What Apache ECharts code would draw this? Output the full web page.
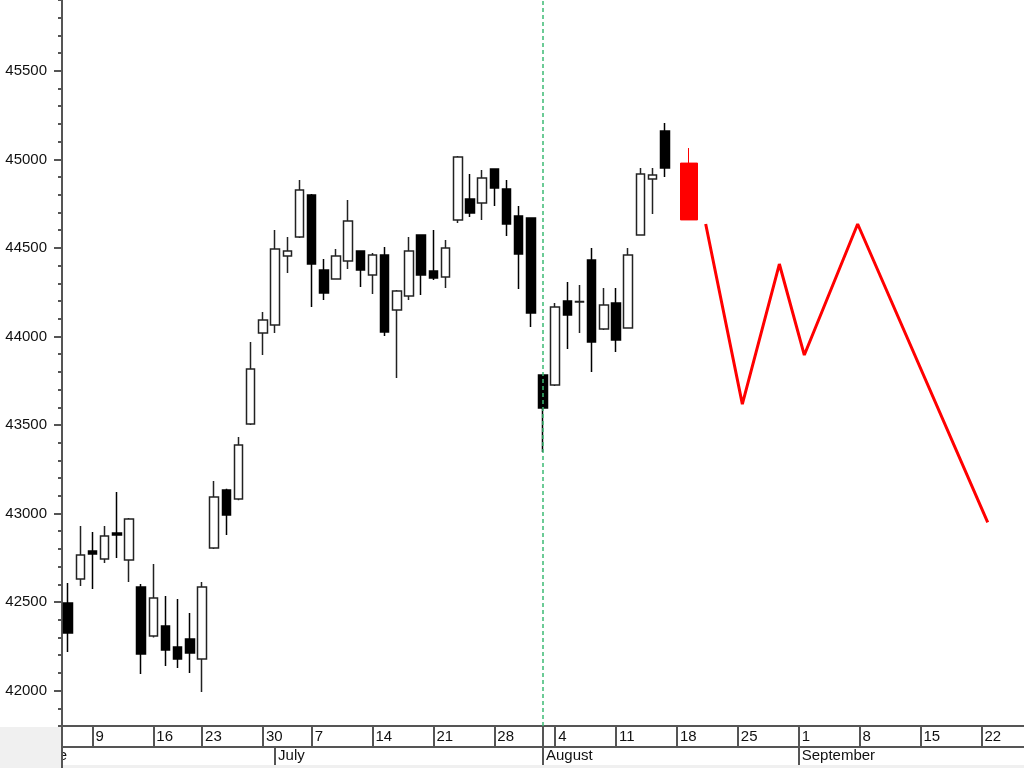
<!DOCTYPE html>
<html>
<head>
<meta charset="utf-8">
<script src="https://cdn.jsdelivr.net/npm/echarts@6/dist/echarts.min.js"></script>
<style>
html,body{margin:0;padding:0;background:#fff;}
#chart{width:1024px;height:768px;}
</style>
</head>
<body>
<div id="chart"></div>
<script>
// Trading-day categories (past sessions + projected sessions)
const dates = [
  '2025-06-05','2025-06-06','2025-06-09','2025-06-10','2025-06-11','2025-06-12','2025-06-13',
  '2025-06-16','2025-06-17','2025-06-18','2025-06-20',
  '2025-06-23','2025-06-24','2025-06-25','2025-06-26','2025-06-27',
  '2025-06-30','2025-07-01','2025-07-02','2025-07-03',
  '2025-07-07','2025-07-08','2025-07-09','2025-07-10','2025-07-11',
  '2025-07-14','2025-07-15','2025-07-16','2025-07-17','2025-07-18',
  '2025-07-21','2025-07-22','2025-07-23','2025-07-24','2025-07-25',
  '2025-07-28','2025-07-29','2025-07-30','2025-07-31','2025-08-01',
  '2025-08-04','2025-08-05','2025-08-06','2025-08-07','2025-08-08',
  '2025-08-11','2025-08-12','2025-08-13','2025-08-14','2025-08-15',
  '2025-08-18','2025-08-19','2025-08-20','2025-08-21','2025-08-22',
  '2025-08-25','2025-08-26','2025-08-27','2025-08-28','2025-08-29',
  '2025-09-01','2025-09-02','2025-09-03','2025-09-04','2025-09-05',
  '2025-09-08','2025-09-09','2025-09-10','2025-09-11','2025-09-12',
  '2025-09-15','2025-09-16','2025-09-17','2025-09-18','2025-09-19',
  '2025-09-22','2025-09-23','2025-09-24','2025-09-25'
];

const opens  = [42495,42630,42788,42743,42890,42737,42585,42308,42365,42246,42291,42178,42805,43133,43082,43505,44019,44065,44454,44562,44799,44375,44324,44426,44482,44347,44460,44149,44228,44573,44370,44336,44658,44776,44754,44946,44833,44680,44669,43782,43726,44200,44195,44432,44042,44189,44048,44573,44889,45160];
const closes = [42325,42766,42771,42873,42879,42969,42207,42523,42229,42178,42212,42585,43093,42992,43387,43816,44093,44494,44482,44827,44409,44245,44454,44652,44375,44460,44025,44257,44482,44347,44330,44499,45013,44697,44895,44838,44635,44466,44132,43596,44166,44121,44197,43969,44178,43980,44460,44917,44912,44951];
const lows   = [42218,42591,42574,42720,42749,42613,42094,42300,42139,42128,42099,41992,42800,42879,43075,43500,43895,44019,44358,44556,44166,44206,44320,44381,44279,44240,44002,43765,44206,44234,44319,44274,44641,44675,44658,44737,44567,44268,44053,43347,43720,43929,44019,43799,44036,43912,44045,44570,44691,44900];
const highs  = [42608,42929,42896,42929,43121,42975,42602,42715,42534,42517,42438,42613,43184,43140,43432,43969,44138,44601,44562,44883,44805,44437,44494,44770,44485,44471,44505,44262,44562,44575,44601,44545,45019,44917,44940,44950,44883,44737,44672,43785,44189,44307,44290,44499,44274,44274,44499,44951,44951,45205];

// Red projected candle
const projDate = '2025-08-19';
const projOHLC = [44979, 44658, 44658, 45064]; // open, close, low, high

// Red projection path: position in trading-day index, value
const pathPos = [52.36, 55.37, 58.41, 60.46, 64.84, 75.52];
const pathVal = [44635, 43618, 44409, 43895, 44635, 42950];

// Marker date (green dashed line)
const markerDate = '2025-08-01';

// Y-axis tick labels
const yLabels = [42000, 42500, 43000, 43500, 44000, 44500, 45000, 45500];
const yMinorTicks = [41800,41900,42000,42100,42200,42300,42400,42500,42600,42700,42800,42900,43000,43100,43200,43300,43400,43500,43600,43700,43800,43900,44000,44100,44200,44300,44400,44500,44600,44700,44800,44900,45000,45100,45200,45300,45400,45500,45600,45700,45800,45900];

const monthNames = ['January','February','March','April','May','June','July','August','September','October','November','December'];

function isMonday(d){ return new Date(d + 'T00:00:00Z').getUTCDay() === 1; }
function isMonthStart(i){ return i > 0 && dates[i].slice(5,7) !== dates[i-1].slice(5,7); }

const candleData = opens.map((o, i) => [o, closes[i], lows[i], highs[i]]);
const pathData = pathPos.map((p, i) => [p, pathVal[i]]);

const FONT = "'Liberation Sans', Arial, sans-serif";
const AX = '#555';

const chart = echarts.init(document.getElementById('chart'), null, {renderer: 'canvas'});
chart.setOption({
  animation: false,
  backgroundColor: '#ffffff',
  grid: {left: 62, right: 0, top: 0, bottom: 42, containLabel: false},
  xAxis: [
    {
      type: 'category', data: dates, boundaryGap: true, position: 'bottom',
      axisLine: {show: true, onZero: false, lineStyle: {color: AX, width: 2}},
      axisTick: {show: true, alignWithLabel: true, length: 21,
        interval: (i, v) => isMonday(v) || v === markerDate,
        lineStyle: {color: AX, width: 2}},
      axisLabel: {show: true, interval: (i, v) => isMonday(v),
        formatter: v => String(Number(v.slice(8))),
        align: 'left', verticalAlign: 'middle', margin: 11, padding: [0,0,0,3],
        fontFamily: FONT, fontSize: 15, color: '#111'},
      splitLine: {show: false}
    },
    {
      type: 'category', data: dates, boundaryGap: true, position: 'bottom', offset: 21,
      axisLine: {show: true, onZero: false, lineStyle: {color: AX, width: 2}},
      axisTick: {show: true, alignWithLabel: true, length: 19,
        interval: (i) => isMonthStart(i),
        lineStyle: {color: AX, width: 2}},
      axisLabel: {show: true, interval: (i) => isMonthStart(i),
        formatter: v => monthNames[Number(v.slice(5,7)) - 1],
        align: 'left', verticalAlign: 'middle', margin: 9, padding: [0,0,0,3],
        fontFamily: FONT, fontSize: 15, color: '#111'},
      splitLine: {show: false}
    },
    {
      type: 'value', min: -0.5, max: dates.length - 0.5, show: false,
      axisLine: {onZero: false}
    }
  ],
  yAxis: [
    {
      type: 'value', min: 41800, max: 45900, position: 'left',
      axisLine: {show: true, onZero: false, lineStyle: {color: AX, width: 2}},
      axisTick: {show: true, length: 8, customValues: yLabels, lineStyle: {color: AX, width: 2}},
      axisLabel: {show: true, customValues: yLabels, margin: 15, formatter: v => String(v),
        fontFamily: FONT, fontSize: 15, color: '#111'},
      splitLine: {show: false}
    },
    {
      type: 'value', min: 41800, max: 45900, position: 'left',
      axisLine: {show: false, onZero: false},
      axisTick: {show: true, length: 4, customValues: yMinorTicks, lineStyle: {color: AX, width: 2}},
      axisLabel: {show: false},
      splitLine: {show: false}
    }
  ],
  series: [
    {
      type: 'candlestick', name: 'price', xAxisIndex: 0, yAxisIndex: 0,
      data: candleData, barWidth: 9,
      itemStyle: {color: '#ffffff', color0: '#000000', borderColor: '#222222', borderColor0: '#000000', borderWidth: 1.5},
      markLine: {
        silent: true, symbol: ['none','none'], label: {show: false},
        lineStyle: {color: '#3dbb74', type: [4,3], width: 1.5},
        data: [{xAxis: markerDate}]
      },
      z: 2
    },
    {
      type: 'candlestick', name: 'projection', xAxisIndex: 0, yAxisIndex: 0,
      data: [[projDate].concat(projOHLC)],
      encode: {x: 0, y: [1,2,3,4]},
      barWidth: 17,
      itemStyle: {color: '#ff0000', color0: '#ff0000', borderColor: '#ff0000', borderColor0: '#ff0000', borderWidth: 1},
      z: 3
    },
    {
      type: 'line', name: 'path', xAxisIndex: 2, yAxisIndex: 0,
      data: pathData, symbol: 'none', smooth: false,
      lineStyle: {color: '#ff0000', width: 3},
      z: 3
    }
  ],
  graphic: [
    {type: 'text', z: 10, style: {text: 'June', x: 67, y: 756, align: 'right', verticalAlign: 'middle',
      font: "15px 'Liberation Sans', Arial, sans-serif", fill: '#111'}},
    {type: 'rect', z: 11, shape: {x: 0, y: 727, width: 61, height: 41}, style: {fill: '#f0f0f0'}},
    {type: 'rect', z: 11, shape: {x: 0, y: 765, width: 1024, height: 3}, style: {fill: '#f0f0f0'}},
    {type: 'line', z: 12, shape: {x1: 62, y1: 724, x2: 62, y2: 768}, style: {stroke: AX, lineWidth: 2}}
  ]
});
</script>
</body>
</html>
